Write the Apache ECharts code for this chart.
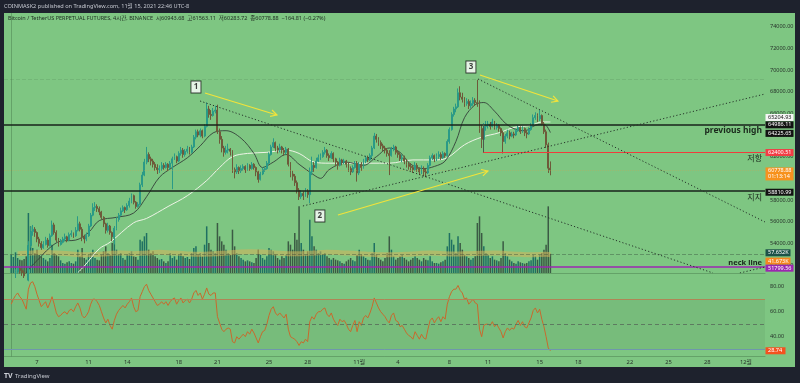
<!DOCTYPE html>
<html><head><meta charset="utf-8">
<script src="https://cdn.jsdelivr.net/npm/echarts@6/dist/echarts.min.js"></script>
<style>
html,body{margin:0;padding:0;background:#1e222d;width:800px;height:383px;overflow:hidden}
#bg{position:absolute;left:4px;top:13px;width:791px;height:354px;background:#7ec682}
#c{position:absolute;left:0;top:0;width:800px;height:383px}
</style></head>
<body><div id="bg"></div><div id="c"></div>
<script>
// ---- data (4h candles, UTC-8, starting Oct 5 00:00) ----
const firstOpen = 49900;
const closes = [
50300,50900,51400,51700,51500,51300, 51000,50600,53800,55100,55300,55000,
54400,54000,53600,53900,54300,53800, 54700,55700,55000,54300,53900,54100,
54400,54600,54300,54800,54900,54700, 55200,55800,55300,54600,54400,54700,
55600,56600,57300,57400,57200,56900, 56400,55800,55200,55600,55000,54600,
55400,56200,56600,57000,57300,57100, 57500,57900,58400,57800,57400,57600,
59400,60300,61500,62200,61800,61600, 61300,61000,60800,60900,61200,61000,
61300,61000,61400,61800,62000,61600, 62300,62600,62200,62500,62700,62400,
62900,63800,64300,64000,64400,63900, 64800,66400,65900,65800,66200,66300,
64300,63600,62800,62400,62600,62700, 62500,60800,60600,61000,60700,60900,
61100,60800,61200,60900,61300,61000, 60600,59900,60400,60800,60900,61400,
62200,62900,63300,62800,62600,62900, 62600,62400,62700,61300,60400,60200,
59600,58900,58300,58600,58400,58800, 58500,60600,61200,61000,61600,61900,
62000,62400,62600,62100,61900,62300, 61800,61500,61200,61700,61500,61600,
61300,60900,60600,61000,61400,60500, 61300,61000,61600,61900,61700,62100,
62800,63900,63600,63300,63000,62800, 62600,62300,62100,62700,62900,62400,
62200,61800,61900,61600,61300,61100, 61000,60800,61200,60900,60600,60900,
60600,60500,61200,61900,62100,61800, 62000,62200,61900,62300,62100,63400,
64500,65900,66400,66600,67900,67500, 67300,66900,67100,66700,66900,67200,
67000,66900,64600,63600,64800,64900, 65000,64800,65200,64700,64900,64600,
64200,63400,63900,64200,63900,64100, 64000,64400,64700,64300,64600,64200,
64100,64500,64900,65600,65800,65500, 65800,65000,64300,63100,60943.68,60778.88];
const highs = [
50600,51100,51600,51900,51800,51600, 51500,51200,54200,55500,55700,55500,
55100,54600,54200,54200,54600,54500, 54900,56100,55900,55200,54500,54400,
54600,54900,54700,55000,55200,55000, 55500,56500,56000,55500,54800,55000,
55800,56800,57700,57800,57600,57400, 57000,56500,55900,55900,55700,55100,
55600,56400,56800,57300,57500,57400, 57700,58200,58600,58500,57900,57800,
59600,60600,61800,62900,62400,62000, 61800,61500,61300,61200,61500,61400,
61500,61400,61600,62000,62300,62100, 62500,62900,62800,62700,63000,62900,
63100,64000,64500,64500,64600,64500, 65000,67000,66700,66300,66500,66700,
66800,64600,63900,63000,63000,63200, 62800,62600,61000,61300,61100,61200,
61300,61200,61400,61300,61500,61400, 61100,60700,60600,61000,61100,61600,
62400,63100,63700,63400,63000,63200, 63000,62800,62900,62800,61500,60700,
60400,59800,59100,58900,58800,59100, 59000,61000,62000,61500,61900,62200,
62300,62600,62900,62700,62300,62500, 62400,61900,61600,61900,61800,61800,
61700,61500,61100,61200,61600,61600, 61500,61500,61800,62100,62100,62300,
63000,64200,64100,63800,63500,63200, 63000,62800,62600,62900,63100,63000,
62600,62400,62200,62100,61800,61500, 61400,61200,61500,61400,61000,61200,
61100,60900,61400,62100,62300,62200, 62300,62500,62400,62500,62400,63600,
64700,66100,66600,66900,68300,68500, 67900,67500,67400,67300,67200,67500,
67400,69100,67200,64900,65100,65300, 65300,65200,65500,65300,65100,65000,
64700,64400,64100,64500,64400,64300, 64300,64600,64900,64800,64800,64700,
64400,64700,65100,65900,66100,66000, 66300,65900,65200,64500,63300,61563.11];
const lows = [
49700,50200,50800,51200,51200,51000, 50800,50300,50500,53600,54700,54600,
54100,53700,53400,53500,53800,53600, 53700,54600,54800,54100,53700,53800,
54000,54200,54100,54200,54600,54500, 54600,55100,55100,54200,54000,54200,
54600,55500,56500,57000,56900,56600, 56200,55500,54900,55000,54800,54200,
53900,55200,56000,56500,56900,56800, 57000,57300,57700,57600,57200,57300,
57500,59200,60200,61300,61500,61200, 61000,60700,60400,60500,60700,60800,
60900,60700,60800,59000,61700,61400, 61500,62100,61900,62000,62300,62200,
62300,62800,63600,63800,63800,63700, 63800,64700,65600,65400,65700,66000,
64100,63200,62400,62000,62200,62300, 62100,60500,60000,60400,60400,60500,
60700,60500,60700,60700,60800,60800, 60200,59600,59800,60300,60600,60800,
61300,62100,62800,62500,62300,62400, 62300,62100,62200,61100,60100,59800,
59300,58600,58000,58100,58000,58300, 58200,57700,60300,60600,60900,61500,
61700,61900,62200,61900,61600,61800, 61500,61100,60800,61100,61200,61300,
61000,60600,60300,60500,60900,59700, 60300,60700,60900,61400,61500,61600,
61900,62700,63300,63000,62700,62500, 62300,62000,60300,62000,62500,62200,
61900,61600,61500,61300,61000,60800, 60700,60500,60700,60600,60300,60400,
60200,60100,60400,61100,61700,61500, 61600,61800,61700,61800,61900,62000,
63200,64400,65700,66100,66500,67200, 67000,66600,66700,66400,66500,66700,
66700,66600,64200,62800,63500,64400, 64600,64500,64700,64500,64500,64300,
63900,62300,63200,63700,63600,63800, 63700,63900,64300,64100,64200,63900,
63700,64000,64400,64800,65400,65200, 65300,64900,64100,62800,60500,60283.72];
// volume, thousands of BTC
const volumes = [
55,48,62,45,40,38, 42,50,180,140,75,60, 70,55,50,45,40,35, 45,85,60,55,50,38,
30,28,32,35,30,28, 35,70,50,75,45,40, 55,60,70,45,40,38, 55,65,80,60,55,90,
110,70,55,60,45,40, 55,60,65,50,48,40, 100,95,110,120,70,60, 65,50,45,40,42,35,
30,35,60,45,50,40, 55,60,50,45,48,42, 60,75,80,55,60,50, 85,140,90,70,65,60,
150,110,95,85,70,60, 55,130,80,60,50,45, 40,35,38,35,32,30, 45,70,55,45,40,50,
75,70,65,55,45,40, 50,45,55,95,85,70, 120,100,200,90,70,55, 65,160,110,80,70,60,
65,55,60,50,45,40, 45,40,38,35,30,28, 35,40,45,38,35,55, 70,55,50,45,40,38,
60,90,55,45,40,35, 45,60,110,70,50,40, 45,50,55,45,40,35, 40,45,50,45,40,35,
45,40,38,50,35,30, 30,28,32,35,40,80, 120,100,85,60,110,90, 70,55,50,45,40,45,
50,150,170,120,80,60, 55,45,50,40,38,35, 45,95,60,50,40,35, 30,28,35,32,30,28,
30,35,38,55,50,40, 55,60,70,85,200,57.652];
const volMaIdx = [3,9,15,21,27,33,39,45,51,57,63,69,75,81,87,93,99,105,111,117,123,129,135,141,147,153,159,165,171,177,183,189,195,201,207,213,219,225,231,237,243,249,251];
const volMaVal = [58,60,62,60,58,55,56,58,60,58,60,62,60,58,56,57,59,62,64,63,60,58,58,60,62,61,59,57,55,55,56,58,60,58,57,58,59,60,58,56,55,56,55];
const rsi = [
66,70,73,75,72,70, 66,62,78,83,84,80, 74,69,64,66,68,63, 67,72,66,59,56,57,
59,60,58,61,62,60, 64,67,63,57,55,57, 60,66,70,70,68,65, 60,55,51,54,49,46,
53,58,61,63,65,63, 66,68,71,64,60,61, 72,76,80,82,77,74, 71,68,65,66,68,66,
68,65,68,70,71,66, 69,71,67,69,70,67, 70,75,77,73,75,70, 74,79,74,73,75,75,
56,51,46,44,46,47, 46,36,35,40,38,40, 42,40,44,42,46,43, 39,35,40,44,45,50,
57,62,64,59,57,59, 57,55,58,46,40,39, 38,36,33,36,35,38, 36,52,56,54,58,60,
60,62,63,58,56,59, 54,51,49,54,52,53, 50,46,44,49,53,44, 52,49,55,57,55,59,
64,71,67,63,60,58, 56,53,51,57,59,53, 52,48,49,46,43,41, 40,38,44,41,38,42,
39,38,46,53,55,51, 54,56,52,56,54,66, 72,76,78,78,81,77, 75,70,71,66,68,70,
67,66,46,40,49,50, 50,49,52,48,50,47, 44,39,44,47,45,47, 46,50,53,49,52,48,
47,51,55,61,63,59, 62,54,48,40,31,28.74];
const maDarkIdx = [6,9,12,18,23,30,36,41,49,57,63,69,75,82,88,94,100,107,113,117,122,128,134,141,144,148,156,164,170,176,181,186,192,197,202,207,211,216,220,225,230,235,239,244,248,251];
const maDarkVal = [51000,51800,52400,53600,54200,54300,55000,56100,56400,56800,58300,60100,61000,61900,63000,64200,64400,63700,62300,61000,61500,62200,61300,60300,60000,60800,61500,61200,62000,62800,62400,61300,60900,61100,61600,63400,65600,66800,67000,66200,65100,64500,64400,64900,65000,64225.65];
const maWhiteIdx = [31,34,41,46,57,63,73,82,91,97,103,110,119,128,134,141,148,156,167,176,187,197,203,211,219,227,234,242,247,251];
const maWhiteVal = [51300,51900,53500,54100,55900,56300,57400,58400,59800,61000,62000,62300,62400,62600,62300,61500,61400,61400,61400,61400,61700,61700,61900,63100,63800,64200,64700,64900,65200,65204.93];
// axis ticks
const dateTickIdx = [12,36,54,78,96,120,138,162,180,204,222,246,264,288,306,324,342];
const dateTickText = ['7','11','14','18','21','25','28','11월','4','8','11','15','18','22','25','28','12월'];
const priceTicks = [52000,54000,56000,58000,60000,62000,64000,66000,68000,70000,72000,74000];
const rsiTicks = [40,60,80];
// drawing annotations, in (candle index, price)
const levelPrevHigh = 64986.11, levelResist = 62400.51, levelSupport = 58810.99, levelNeck = 51799.56;
const lastPrice = 60778.88, athLine = 69172, resistStartIdx = 219.6;
const trendLines = [[87.9,67141,326.7,51264],[135.8,57449,350.9,67788],[217.3,69172,350.9,55972],[339.2,51264,350.9,51818]];
const arrows = [[90.2,67880,123.7,65849],[152.1,56618,221.9,60680],[218.2,69541,254.5,67141]];
const waveLabels = [[86.0,68434,'1'],[143.7,56526,'2'],[214.0,70280,'3']];

// ---- chart ----
const FONT = '"Noto Sans","Noto Sans CJK KR",sans-serif';
const chart = echarts.init(document.getElementById('c'), null, {renderer:'canvas'});
const candleData = closes.map((c,i)=>[i, i===0?firstOpen:closes[i-1], c, lows[i], highs[i]]);
const volData = volumes.map((v,i)=>({value:[i,v], itemStyle:{color: closes[i] >= (i===0?firstOpen:closes[i-1]) ? '#1f7062' : '#3b5a44'}}));
const zip = (a,b)=>a.map((x,i)=>[x,b[i]]);
const X_MIN=-3.36, X_MAX=350.9;
const SEP = 'rgba(40,80,45,0.3)';

const option = {
  animation:false,
  grid:[
    {left:4, right:35, top:13, height:260},
    {left:4, right:35, top:274, height:82}
  ],
  xAxis:[
    {gridIndex:0, type:'value', min:X_MIN, max:X_MAX, axisLabel:{show:false}, axisTick:{show:false}, splitLine:{show:false},
     axisLine:{show:true, lineStyle:{color:SEP, width:1}}},
    {gridIndex:1, type:'value', min:X_MIN, max:X_MAX, splitLine:{show:false}, axisTick:{show:false},
     axisLine:{show:true, lineStyle:{color:SEP, width:1}},
     axisLabel:{customValues:dateTickIdx, formatter:v=>dateTickText[dateTickIdx.indexOf(Math.round(v))]||'', fontSize:5.8, color:'#27322a', margin:3, fontFamily:FONT}}
  ],
  yAxis:[
    {gridIndex:0, type:'value', position:'right', min:51262, max:75265, splitLine:{show:false}, axisTick:{show:false},
     axisLine:{show:true, lineStyle:{color:SEP}},
     axisLabel:{customValues:priceTicks, formatter:v=>v.toFixed(2), fontSize:5.5, color:'#27322a', margin:5, fontFamily:FONT}},
    {gridIndex:0, type:'value', min:0, max:780, show:false},
    {gridIndex:1, type:'value', position:'right', min:24.56, max:90.16, splitLine:{show:false}, axisTick:{show:false},
     axisLine:{show:true, lineStyle:{color:SEP}},
     axisLabel:{customValues:rsiTicks, formatter:v=>v.toFixed(2), fontSize:5.5, color:'#27322a', margin:5, fontFamily:FONT}}
  ],
  series:[
    {type:'bar', name:'vol', xAxisIndex:0, yAxisIndex:1, data:volData, barWidth:1.5, z:1, silent:true,
     markLine:{silent:true, symbol:'none', label:{show:false},
       data:[{yAxis:57.652, lineStyle:{color:'rgba(50,70,55,0.4)', type:'dashed', width:1}}]}},
    {type:'line', name:'volma', xAxisIndex:0, yAxisIndex:1, data:zip(volMaIdx,volMaVal), smooth:0.4, showSymbol:false, z:1,
     lineStyle:{color:'rgba(214,178,90,0.55)', width:5}},
    {type:'line', name:'maWhite', xAxisIndex:0, yAxisIndex:0, data:zip(maWhiteIdx,maWhiteVal), smooth:0.35, showSymbol:false, z:3,
     lineStyle:{color:'#eef3e6', width:1}},
    {type:'line', name:'maDark', xAxisIndex:0, yAxisIndex:0, data:zip(maDarkIdx,maDarkVal), smooth:0.35, showSymbol:false, z:3,
     lineStyle:{color:'#34403a', width:0.9}},
    {type:'candlestick', name:'BTC', xAxisIndex:0, yAxisIndex:0, data:candleData, barWidth:1.4, z:4,
     dimensions:['i','open','close','lowest','highest'], encode:{x:'i', y:['open','close','lowest','highest']},
     itemStyle:{color:'#2a9a87', color0:'#6e5a3a', borderColor:'#2a9a87', borderColor0:'#6e5a3a', borderWidth:1},
     markLine:{silent:true, symbol:'none', animation:false,
       label:{fontFamily:FONT, color:'#1b2a1d'},
       data:[
         {yAxis:athLine, lineStyle:{color:'rgba(60,100,65,0.16)', type:'dashed', width:1}, label:{show:false}},
         {yAxis:lastPrice, lineStyle:{color:'rgba(225,150,70,0.28)', type:'dotted', width:1}, label:{show:false}},
         {yAxis:levelPrevHigh, lineStyle:{color:'#18221a', type:'solid', width:1.5},
          label:{show:true, position:'insideEndBottom', formatter:'previous high', fontSize:8.5, fontWeight:'bold', distance:[3,2]}},
         {yAxis:levelSupport, lineStyle:{color:'#18221a', type:'solid', width:1.5},
          label:{show:true, position:'insideEndBottom', formatter:'지지', fontSize:8, distance:[3,2]}},
         {yAxis:levelNeck, lineStyle:{color:'#9c27b0', type:'solid', width:1.5},
          label:{show:true, position:'insideEndTop', formatter:'neck line', fontSize:7.5, fontWeight:'bold', distance:[3,1]}},
         [{coord:[resistStartIdx, levelResist], lineStyle:{color:'#f03c3c', type:'solid', width:1.2},
           label:{show:true, position:'insideEndBottom', formatter:'저항', fontSize:8, distance:[3,2]}},
          {coord:[X_MAX, levelResist]}],
         [{coord:[resistStartIdx, levelPrevHigh], lineStyle:{color:'#4a5a4c', type:'solid', width:1}, label:{show:false}},
          {coord:[resistStartIdx, levelResist]}]
       ]}},
    ...trendLines.map((t,k)=>({type:'line', name:'trend'+k, xAxisIndex:0, yAxisIndex:0, data:[[t[0],t[1]],[t[2],t[3]]],
      showSymbol:false, z:5, silent:true, lineStyle:{color:'#26342a', width:1, type:[1.2,2.2]}})),
    {type:'custom', name:'arrows', xAxisIndex:0, yAxisIndex:0, data:arrows, z:6, silent:true,
     renderItem:(params, api)=>{
       const p1 = api.coord([api.value(0), api.value(1)]);
       const p2 = api.coord([api.value(2), api.value(3)]);
       const ang = Math.atan2(p2[1]-p1[1], p2[0]-p1[0]);
       const L = 7, a = 0.5;
       const h1 = [p2[0]-L*Math.cos(ang-a), p2[1]-L*Math.sin(ang-a)];
       const h2 = [p2[0]-L*Math.cos(ang+a), p2[1]-L*Math.sin(ang+a)];
       const st = {stroke:'#f2e33a', lineWidth:1.2, fill:null};
       return {type:'group', children:[
         {type:'line', shape:{x1:p1[0],y1:p1[1],x2:p2[0],y2:p2[1]}, style:st},
         {type:'polyline', shape:{points:[h1,p2,h2]}, style:st}
       ]};
     }},
    {type:'scatter', name:'waves', xAxisIndex:0, yAxisIndex:0, data:waveLabels, symbol:'rect', symbolSize:[10,12], z:7, silent:true,
     itemStyle:{color:'#ffffff', borderColor:'#111', borderWidth:1},
     label:{show:true, position:'inside', formatter:p=>p.value[2], fontSize:8, fontWeight:'bold', color:'#111', fontFamily:FONT}},
    {type:'line', name:'rsi', xAxisIndex:1, yAxisIndex:2, data:rsi.map((v,i)=>[i,v]), showSymbol:false, z:3,
     lineStyle:{color:'#c8692c', width:1},
     markArea:{silent:true, itemStyle:{color:'rgba(40,80,45,0.08)'}, data:[[{yAxis:30},{yAxis:70}]]},
     markLine:{silent:true, symbol:'none', label:{show:false}, data:[
       {yAxis:70, lineStyle:{color:'#b08556', type:'solid', width:1}},
       {yAxis:50, lineStyle:{color:'#5d7a60', type:[4,3], width:1}},
       {yAxis:30, lineStyle:{color:'#6f97ab', type:'solid', width:1}}
     ]}}
  ]
};
chart.setOption(option);

// axis tags (price labels on the scale) placed through the axes' own scales
const tags = [
  {ax:0, v:65204.93, t:'65204.93', bg:'#f6f6f6', fg:'#1a1a1a', dy:-4.5, w:28},
  {ax:0, v:levelPrevHigh, t:'64986.11', bg:'#121212', fg:'#ffffff', dy:0.5, w:28},
  {ax:0, v:64225.65, t:'64225.65', bg:'#121212', fg:'#ffffff', dy:0.8, w:28},
  {ax:0, v:levelResist, t:'62400.51', bg:'#f23c45', fg:'#ffffff', dy:0.2, w:28},
  {ax:0, v:levelSupport, t:'58810.99', bg:'#121212', fg:'#ffffff', dy:1, w:28},
  {ax:1, v:57.652, t:'57.652K', bg:'#1c5249', fg:'#ffffff', dy:-1, w:25},
  {ax:1, v:41.673, t:'41.673K', bg:'#f5861f', fg:'#ffffff', dy:2, w:25},
  {ax:0, v:levelNeck, t:'51799.56', bg:'#9c27b0', fg:'#ffffff', dy:1, w:28},
  {ax:2, v:rsi[rsi.length-1], t:'28.74', bg:'#f4511e', fg:'#ffffff', dy:0, w:20}
];
const g = [];
const TX = 765.5;
tags.forEach(tg=>{
  const y = chart.convertToPixel({yAxisIndex:tg.ax}, tg.v) + tg.dy;
  g.push({type:'rect', shape:{x:TX, y:y-3.5, width:tg.w, height:7}, style:{fill:tg.bg}, z:100});
  g.push({type:'text', x:TX+2.5, y:y, style:{text:tg.t, fill:tg.fg, fontSize:5.5, fontFamily:FONT, verticalAlign:'middle', align:'left'}, z:101});
});
const yl = chart.convertToPixel({yAxisIndex:0}, lastPrice);
g.push({type:'rect', shape:{x:TX, y:yl-2.5, width:28, height:13}, style:{fill:'#f7921e'}, z:100});
g.push({type:'text', x:TX+2.5, y:yl+1, style:{text:'60778.88', fill:'#fff', fontSize:5.5, fontFamily:FONT, verticalAlign:'middle'}, z:101});
g.push({type:'text', x:TX+2.5, y:yl+7, style:{text:'01:13:14', fill:'#fff', fontSize:5.5, fontFamily:FONT, verticalAlign:'middle'}, z:101});
// header, legend, footer
g.push({type:'text', x:4, y:6.5, style:{text:'COINMASK2 published on TradingView.com, 11월 15, 2021 22:46 UTC-8', fill:'#c5c8d0', fontSize:5.6, fontFamily:FONT, verticalAlign:'middle'}, z:100});
g.push({type:'text', x:8, y:18, style:{text:'Bitcoin / TetherUS PERPETUAL FUTURES, 4시간, BINANCE  시60943.68  고61563.11  저60283.72  종60778.88  −164.81 (−0.27%)', fill:'#1d2a20', fontSize:5.5, fontFamily:FONT, verticalAlign:'middle'}, z:100});
g.push({type:'text', x:4, y:376, style:{text:'TV', fill:'#d0d3da', fontSize:7, fontWeight:'bold', fontFamily:FONT, verticalAlign:'middle'}, z:100});
g.push({type:'text', x:15, y:376, style:{text:'TradingView', fill:'#c5c8d0', fontSize:6, fontFamily:FONT, verticalAlign:'middle'}, z:100});
chart.setOption({graphic:g});
</script>
</body></html>
